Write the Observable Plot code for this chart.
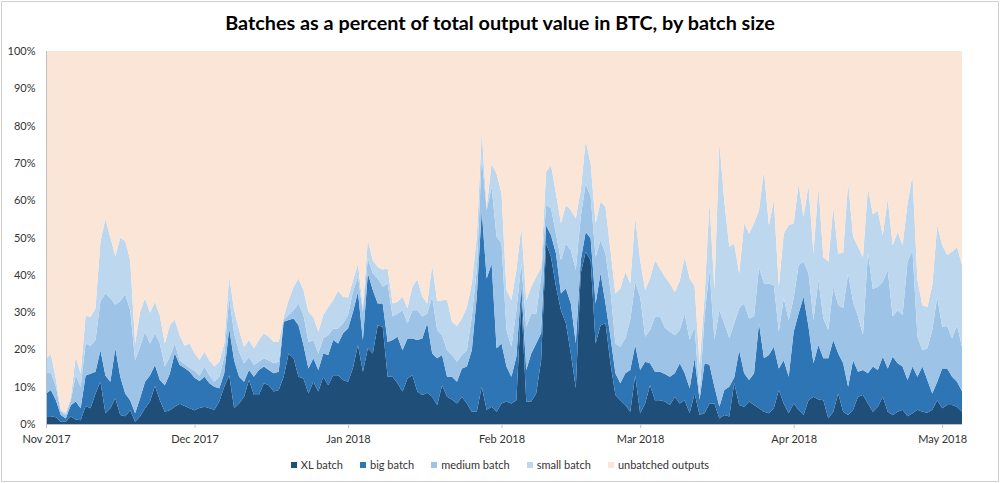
<!DOCTYPE html>
<html>
<head>
<meta charset="utf-8">
<script src="https://cdn.jsdelivr.net/npm/d3@7"></script>
<script src="https://cdn.jsdelivr.net/npm/@observablehq/plot@0.6"></script>
<style>
  html, body { margin: 0; padding: 0; background: #fff; }
  #wrap { position: relative; width: 1000px; height: 483px; overflow: hidden; font-family: Lato, "Open Sans", sans-serif; }
  #frame { position: absolute; left: 1px; top: 1px; width: 996px; height: 479px; border: 1px solid #d0d0d0; }
  #title { position: absolute; left: 0; top: 10px; width: 1000px; text-align: center; font-size: 19.8px; font-weight: bold; color: #000; }
  #chart { position: absolute; left: 0; top: 40px; }
  #legend { position: absolute; left: 0; top: 458px; width: 1000px; display: flex; justify-content: center; gap: 17px; font-size: 11px; color: #333; }
  .item { display: flex; align-items: center; gap: 4px; }
  .sw { width: 6px; height: 6px; display: inline-block; }
</style>
</head>
<body>
<div id="wrap">
  <div id="frame"></div>
  <div id="title">Batches as a percent of total output value in BTC, by batch size</div>
  <div id="chart"></div>
  <div id="legend"></div>
</div>
<script>
const seriesNames = ["XL batch", "big batch", "medium batch", "small batch", "unbatched outputs"];
const seriesColors = ["#1f4e79", "#2e75b6", "#9dc3e6", "#bdd7ee", "#fbe5d6"];
const startDate = "2017-11-01";
const yTicks = [0,10,20,30,40,50,60,70,80,90,100];

// daily values, percent of total output value
const xl = [2.1,2.1,1.8,0.6,0.6,2.0,1.2,1.0,4.8,4.2,
8.2,11.3,2.9,4.2,6.9,2.4,2.1,3.7,0.6,2.1,
4.2,6.0,10.2,6.4,3.3,3.7,4.6,5.4,4.8,4.2,
3.7,4.3,4.6,4.2,3.8,6.0,10.0,13.1,4.2,5.5,
7.3,11.8,7.8,7.8,10.9,10.4,8.7,9.1,12.7,18.9,
17.6,12.7,12.2,8.2,11.3,8.7,12.7,10.4,13.1,13.1,
11.8,11.3,15.0,21.2,14.0,20.3,18.9,26.5,26.1,12.7,
12.7,10.9,8.7,12.2,13.1,8.7,7.8,8.4,7.3,5.1,
10.4,7.3,6.6,5.5,7.3,5.5,3.3,3.3,10.0,3.8,
4.6,3.3,5.5,6.0,5.5,6.4,33.0,6.0,6.0,8.2,
17.1,48.4,44.8,36.8,30.5,27.0,18.9,9.6,40.4,46.2,
43.9,21.6,26.5,27.0,16.3,7.8,6.4,5.1,3.3,13.1,
2.9,5.5,10.4,6.4,6.4,6.0,5.1,7.3,5.5,6.4,
2.9,8.2,2.5,2.9,5.5,5.5,1.5,2.4,2.0,11.0,
5.1,4.6,6.0,5.1,4.2,3.3,2.9,4.2,9.1,5.5,
2.9,5.5,3.8,2.4,6.4,7.3,6.6,6.4,1.5,3.3,
8.2,3.3,2.4,3.8,7.3,7.8,5.5,3.3,4.6,7.3,
3.3,2.4,3.3,3.8,2.1,2.9,3.8,3.3,3.0,3.8,
6.4,4.2,5.1,5.1,4.6,3.3];

const big = [6.1,7.0,4.6,1.8,0.9,3.0,4.8,3.2,8.2,9.3,
5.8,8.5,10.1,7.1,13.4,10.3,6.1,2.7,2.3,4.8,
7.1,7.0,5.6,5.4,7.1,9.8,14.4,10.4,10.2,9.8,
8.7,7.2,8.1,6.7,6.2,3.6,3.6,12.5,12.8,7.2,
4.0,2.7,4.9,6.7,4.5,4.1,4.9,4.9,14.7,9.0,
10.7,13.8,9.0,6.7,6.3,5.8,6.2,8.1,9.4,8.5,
12.5,14.3,15.0,14.2,8.5,20.1,17.0,5.8,6.2,9.3,
9.8,12.5,11.1,10.7,9.8,13.8,15.1,18.6,11.6,12.5,
8.1,5.4,6.1,5.8,7.6,9.9,16.5,30.8,47.3,35.2,
38.4,17.0,16.1,9.4,7.2,11.6,4.0,8.5,12.9,13.4,
7.2,4.9,5.8,8.9,4.5,9.3,13.4,12.0,3.5,5.3,
5.8,10.7,13.9,5.3,7.1,5.8,4.5,8.5,11.2,8.1,
11.6,11.2,5.9,7.6,7.6,7.4,7.6,6.3,10.8,7.2,
6.7,9.4,4.0,13.4,10.4,4.5,3.1,6.7,8.0,1.5,
14.7,9.0,5.8,8.5,22.8,14.3,15.6,16.5,5.8,11.6,
9.8,19.2,25.8,31.7,19.7,9.0,14.6,11.2,16.1,19.2,
10.7,13.0,7.6,13.3,6.7,6.7,8.1,12.1,9.9,10.7,
11.6,15.6,13.0,11.6,9.7,12.5,8.9,12.1,8.8,4.4,
4.9,10.7,9.8,7.6,6.7,5.5];

const medium = [5.4,4.7,3.6,0.9,0.9,1.4,7.0,5.8,8.6,7.5,
8.5,13.2,22.0,22.4,11.7,20.3,26.5,24.1,14.1,13.8,
13.4,8.6,8.5,9.8,5.0,4.5,2.6,1.2,1.0,1.0,
1.9,1.5,2.7,2.1,1.3,3.1,4.4,8.4,7.3,6.7,
5.0,3.5,3.1,2.2,2.2,2.5,2.7,2.7,0.5,1.3,
2.2,5.8,8.0,7.1,4.9,4.4,4.1,5.3,3.1,4.0,
2.7,3.6,5.6,4.1,7.5,4.0,4.5,6.7,4.5,15.7,
6.3,6.2,10.7,4.1,7.6,8.0,5.9,2.6,15.2,7.6,
5.3,7.1,5.8,5.4,3.6,4.4,9.0,7.2,14.3,18.3,
20.6,29.9,26.8,9.8,8.0,12.5,6.0,11.6,10.7,8.0,
15.2,5.4,7.2,5.3,8.9,12.1,14.3,19.7,11.6,13.0,
11.2,12.5,8.9,13.4,12.5,8.0,9.8,9.3,13.4,16.9,
19.6,6.7,8.9,14.8,14.8,12.4,12.0,10.2,8.9,16.0,
12.9,8.4,1.5,12.5,25.4,12.5,25.9,17.9,13.0,14.5,
11.2,18.7,16.5,15.2,15.1,20.1,19.2,16.5,9.8,16.6,
15.2,9.0,13.0,9.4,14.3,11.6,17.4,10.7,7.6,14.3,
13.0,14.7,30.4,15.6,14.8,9.4,32.3,20.8,22.3,20.1,
26.4,10.8,14.2,13.8,31.7,31.2,10.7,4.4,8.5,17.0,
22.8,11.2,11.4,10.3,15.2,11.9];

const small = [4.0,4.9,2.0,0.4,0.6,0.6,5.0,3.5,7.4,7.7,
8.5,16.0,20.0,16.3,13.0,17.0,14.3,13.5,4.6,9.3,
9.0,8.2,8.5,7.4,6.2,8.5,6.4,6.8,5.0,6.6,
4.7,4.2,4.0,4.0,4.1,4.0,3.6,5.6,6.2,5.8,
4.4,4.5,4.5,5.8,6.7,6.4,5.7,5.3,0.8,4.0,
6.3,6.7,6.7,8.0,6.2,5.8,6.2,7.6,7.6,10.1,
7.1,4.7,2.9,3.5,1.4,4.9,3.5,3.1,4.6,4.0,
3.5,3.2,3.6,4.0,6.3,8.3,5.3,2.7,8.5,7.8,
9.4,13.6,8.9,9.6,9.8,11.6,8.9,8.9,6.7,0.9,
6.2,16.9,13.4,10.7,12.5,10.8,9.9,7.1,7.2,9.9,
2.6,8.9,11.6,10.8,9.9,10.3,10.7,13.8,7.2,11.5,
8.9,9.0,10.3,12.5,10.7,13.4,15.6,17.9,9.8,17.4,
9.8,12.5,13.8,15.1,12.9,13.7,13.0,11.6,13.2,15.2,
16.5,11.0,8.0,5.2,18.3,13.4,45.1,32.6,24.5,21.4,
9.4,21.5,22.8,25.0,15.2,30.3,15.6,22.8,12.1,17.4,
25.4,20.1,21.9,12.0,23.6,17.8,25.0,16.5,18.3,21.4,
13.8,14.9,24.5,17.5,18.7,20.9,17.5,20.0,20.3,12.5,
19.1,19.1,21.0,18.7,15.6,20.1,15.2,12.1,11.1,12.0,
19.2,21.8,19.0,23.2,21.0,21.9];

const start = new Date(startDate + "T00:00:00Z");
const dates = xl.map((_, i) => d3.utcDay.offset(start, i));
const data = [];
dates.forEach((date, i) => {
  const vals = [xl[i], big[i], medium[i], small[i]];
  const batched = d3.sum(vals);
  vals.push(100 - batched); // remainder = unbatched outputs
  vals.forEach((v, k) => data.push({date, series: seriesNames[k], value: v}));
});

const monthTicks = d3.utcMonth.range(start, d3.utcDay.offset(dates[dates.length - 1], 1));

const chart = Plot.plot({
  width: 1000,
  height: 410,
  marginLeft: 46,
  marginRight: 38,
  marginTop: 11,
  marginBottom: 26,
  style: {fontFamily: "Lato, 'Open Sans', sans-serif", fontSize: "11px", color: "#333", background: "transparent"},
  x: {type: "utc", domain: [dates[0], dates[dates.length - 1]], label: null},
  y: {domain: [0, 100], label: null},
  color: {domain: seriesNames, range: seriesColors},
  marks: [
    Plot.areaY(data, {x: "date", y: "value", fill: "series", order: seriesNames, curve: "linear"}),
    Plot.ruleY([0], {stroke: "#bfbfbf"}),
    Plot.ruleX([dates[0]], {stroke: "#bfbfbf"}),
    Plot.axisX({ticks: monthTicks, tickFormat: d3.utcFormat("%b %Y"), tickSize: 4, tickPadding: 7, stroke: "#bfbfbf", fill: "#333", fontSize: 11, label: null}),
    Plot.axisY({ticks: yTicks, tickFormat: d => d + "%", tickSize: 0, tickPadding: 11, fill: "#333", fontSize: 11, label: null})
  ]
});
document.getElementById("chart").appendChild(chart);

const legend = document.getElementById("legend");
seriesNames.forEach((name, k) => {
  const it = document.createElement("div");
  it.className = "item";
  const sw = document.createElement("span");
  sw.className = "sw";
  sw.style.background = seriesColors[k];
  const tx = document.createElement("span");
  tx.textContent = name;
  it.appendChild(sw); it.appendChild(tx);
  legend.appendChild(it);
});
</script>
</body>
</html>
